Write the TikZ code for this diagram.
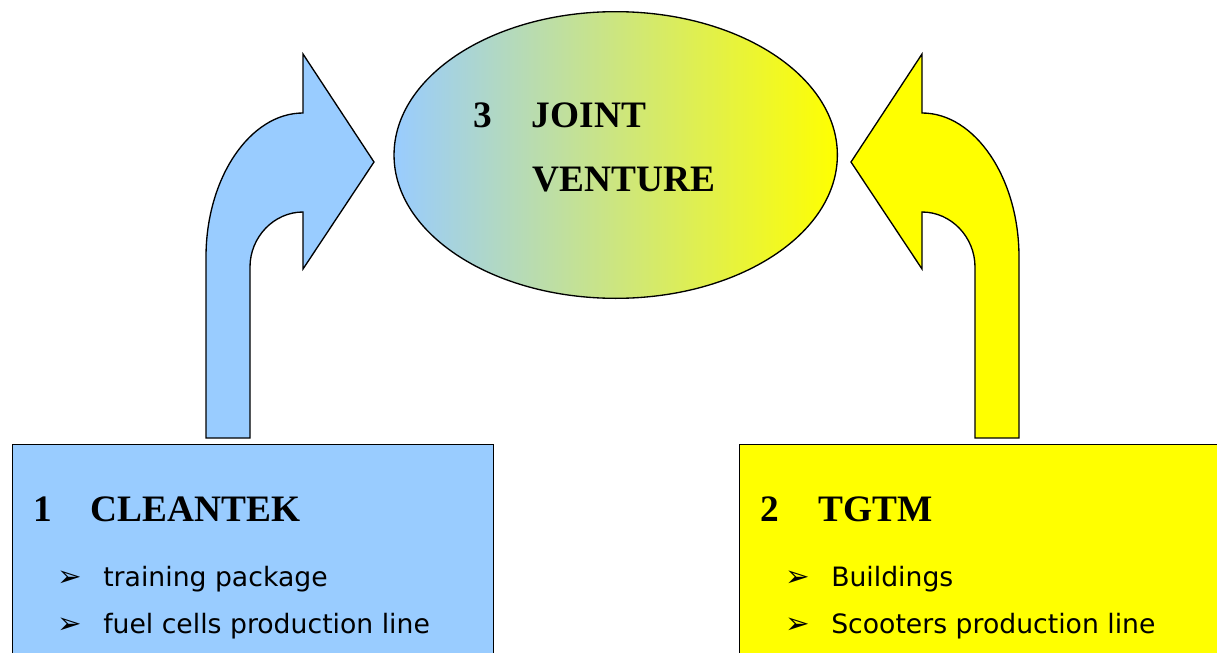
\documentclass[tikz,border=0pt]{standalone}
\usepackage{fontspec}
\usetikzlibrary{shapes.geometric}
\newfontfamily\headfont{Liberation Serif}
\newfontfamily\itemfont{DejaVu Sans}
\definecolor{cleanblue}{RGB}{153,204,255}
\definecolor{tgtmyellow}{RGB}{255,255,0}
\newcommand{\itembullet}{\makebox[34.5pt][l]{\fontsize{22}{22}\selectfont\symbol{"27A2}}}

\begin{document}
\begin{tikzpicture}[x=0.75pt,y=0.75pt,yscale=-1,xscale=1,
  headtext/.style={anchor=base west,inner sep=0pt,font=\headfont\bfseries\fontsize{28}{34}\selectfont},
  itemtext/.style={anchor=base west,inner sep=0pt,font=\itemfont\fontsize{20}{24}\selectfont},
  partbox/.style={draw,line width=1pt,anchor=north west,inner sep=0pt}]
\useasboundingbox (0,0) rectangle (1217,653);

%Shape: Rectangle [id:cleantek]
\node (cleantek) [partbox,fill=cleanblue,minimum width=360.5pt,minimum height=165pt] at (12,444) {};
%Shape: Rectangle [id:tgtm]
\node (tgtm) [partbox,fill=tgtmyellow,minimum width=365pt,minimum height=165pt] at (739,444) {};

%Shape: Ellipse [id:venture]
\node (venture) [draw,line width=1pt,ellipse,inner sep=0pt,minimum width=332.5pt,minimum height=215pt,left color=cleanblue,right color=tgtmyellow] at (615.7,155) {};

%Shape: Curved Right Arrow [id:cleantekarrow]
\draw [line width=1pt,fill=cleanblue] (206,438) -- (206,257) .. controls (206,178) and (250,113) .. (303,113) -- (303,54) -- (374,162) -- (303,269) -- (303,212) .. controls (274,212) and (250,237) .. (250,267) -- (250,438) -- cycle ;
%Shape: Curved Left Arrow [id:tgtmarrow]
\draw [line width=1pt,fill=tgtmyellow] (1019,438) -- (1019,257) .. controls (1019,178) and (975,113) .. (922,113) -- (922,54) -- (851,162) -- (922,269) -- (922,212) .. controls (951,212) and (975,237) .. (975,267) -- (975,438) -- cycle ;

% Text Node
\node (venturetop) [headtext] at (473,127.7) {\makebox[44pt][l]{3}JOINT};
% Text Node
\node (venturebottom) [headtext] at (532.5,191.7) {VENTURE};

% Text Node
\node (cleantekhead) [headtext] at (33,521.7) {\makebox[43pt][l]{1}CLEANTEK};
% Text Node
\node (cleantekitema) [itemtext] at (57,586) {\itembullet training package};
% Text Node
\node (cleantekitemb) [itemtext] at (57,633) {\itembullet fuel cells production line};

% Text Node
\node (tgtmhead) [headtext] at (760,521.7) {\makebox[43.5pt][l]{2}TGTM};
% Text Node
\node (tgtmitema) [itemtext] at (785,586) {\itembullet Buildings};
% Text Node
\node (tgtmitemb) [itemtext] at (785,633) {\itembullet Scooters production line};

\end{tikzpicture}
\end{document}
